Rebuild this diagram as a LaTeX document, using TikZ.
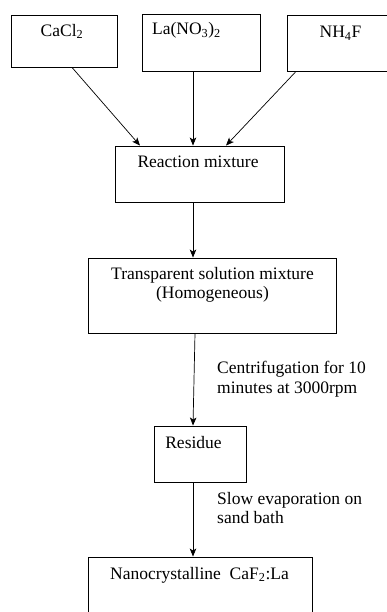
\documentclass[tikz,border=0pt]{standalone}
\usepackage{fontspec}
\setmainfont{Liberation Serif}
\usepackage{tikz}
\usetikzlibrary{arrows.meta}
\tikzset{box/.style = {draw, line width = 0.9pt, inner sep = 0}}
\tikzset{txt/.style = {inner sep = 0, align = center, font = \fontsize{17.5}{19.5}\selectfont}}
\tikzset{flow/.style = {-{Stealth[length = 8pt, width = 6.5pt, inset = 2pt]}, line width = 0.7pt}}

\begin{document}
\begin{tikzpicture}[x = 1pt, y = 1pt]
      \useasboundingbox (0, 0) rectangle (387, 612);

      \node [box, minimum width = 106, minimum height = 52] (cacl) at (64, 571) {};
      \node [box, minimum width = 118, minimum height = 57] (lano) at (201, 569.5) {};
      \node [box, minimum width = 105, minimum height = 56] (nhf) at (339.5, 569) {};
      \node [txt, anchor = north] (caclname) at (62, 588) {CaCl\textsubscript{2}};
      \node [txt, anchor = north] (lanoname) at (186.5, 589.5) {La(NO\textsubscript{3})\textsubscript{2}};
      \node [txt, anchor = north] (nhfname) at (340.5, 586) {NH\textsubscript{4}F};

      \node [box, minimum width = 169, minimum height = 56] (react) at (199.5, 438) {};
      \node [txt, anchor = north] (reactname) at (198, 456) {Reaction mixture};

      \node [box, minimum width = 248, minimum height = 75] (trans) at (212, 316.5) {};
      \node [txt, anchor = north] (transname) at (212.5, 345) {Transparent solution mixture\\(Homogeneous)};

      \node [box, minimum width = 92, minimum height = 56] (resid) at (200, 158) {};
      \node [txt, anchor = north] (residname) at (193.5, 176) {Residue};

      \node [box, minimum width = 224, minimum height = 70] (nano) at (200, 20) {};
      \node [txt, anchor = north] (nanoname) at (199.5, 45) {Nanocrystalline\ \ CaF\textsubscript{2}:La};

      \draw [flow] (72, 0 |- cacl.south) -- (140, 0 |- react.north);
      \draw [flow] (193, 0 |- lano.south) -- (193, 0 |- react.north);
      \draw [flow] (296, 0 |- nhf.south) -- (226, 0 |- react.north);

      \draw [flow] (193, 0 |- react.south) -- (193, 0 |- trans.north);

      \draw [flow] (195, 0 |- trans.south) -- (193, 0 |- resid.north);
      \node [txt, anchor = north west, align = left] (centri) at (217, 251) {Centrifugation for 10\\minutes at 3000rpm};

      \draw [flow] (193, 0 |- resid.south) -- (193, 0 |- nano.north);
      \node [txt, anchor = north west, align = left] (slowevap) at (217, 120) {Slow evaporation on\\sand bath};
\end{tikzpicture}
\end{document}
